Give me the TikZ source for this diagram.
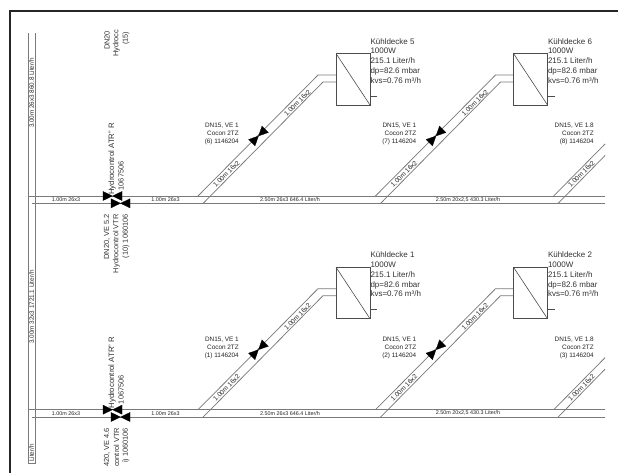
\documentclass[tikz,border=0pt]{standalone}
\usepackage{fontspec}
\setmainfont{Liberation Sans}
\tikzset{
  pipe/.style={draw=black!52,line width=0.75pt},
  unitbox/.style={draw=black!70,line width=0.6pt},
  framing/.style={draw=black!85,line width=1.2pt},
  valve/.style={fill=black,draw=black,line width=0.2pt},
  small/.style={font=\fontsize{5.4}{8}\selectfont,inner sep=0pt,text=black!85},
  riser/.style={font=\fontsize{6.3}{8}\selectfont,inner sep=0pt,rotate=90,text=black!85},
  diag/.style={font=\fontsize{6.6}{8}\selectfont,inner sep=0pt,rotate=45,text=black!85},
  dnlabel/.style={font=\fontsize{6.4}{8}\selectfont,inner sep=0pt,align=right,anchor=north east,text=black!85},
  heat/.style={font=\fontsize{8}{9.75}\selectfont,inner sep=0pt,align=left,anchor=north west,text=black!80},
  rot/.style={font=\fontsize{7.4}{9}\selectfont,inner sep=0pt,rotate=90,text=black!80},
  rotb/.style={font=\fontsize{7.8}{9}\selectfont,inner sep=0pt,rotate=90,text=black!80},
}
% bowtie valve, centred at #1, rotated by #2
\newcommand\valvetie[2]{%
  \fill[valve,shift={(#1)},rotate=#2] (-9.5pt,-4.6pt)--(9.5pt,4.6pt)--(9.5pt,-4.6pt)--(-9.5pt,4.6pt)--cycle;}
% full branch: #1 prefix, #2 x shift, #3 y shift, #4 heat text, #5 dn text
\newcommand\branch[5]{%
 \begin{scope}[shift={(#2,#3)}]
  \coordinate (#1a) at (198,196);
  \coordinate (#1b) at (318,75);
  \coordinate (#1c) at (203,203.5);
  \coordinate (#1d) at (323,82);
  \coordinate (#1tl) at (336,53.5);
  \coordinate (#1br) at (370,105);
  \coordinate (#1e) at (336,75);
  \coordinate (#1f) at (336,82);
  \coordinate (#1g) at (370,96);
  \coordinate (#1h) at (377,96);
  \draw[pipe] (#1a)--(#1b)--(#1e);
  \draw[pipe] (#1c)--(#1d)--(#1f);
  \draw[unitbox] (#1tl) rectangle (#1br);
  \draw[unitbox] (#1tl)--(#1br);
  \draw[unitbox] (#1g)--(#1h);
  \node[heat] (#1heat) at (370.3,38.2) {#4};
  \node[dnlabel] (#1dn) at (239,123) {#5};
  \valvetie{258.5,136}{45}
  \node[diag] (#1l) at (226.5,174) {1.00m 16x2};
  \node[diag] (#1m) at (297.5,103) {1.00m 16x2};
 \end{scope}}
% cut-off branch at the right edge
\newcommand\stubbranch[3]{%
 \begin{scope}[shift={(0,#1)}]
  \coordinate (#2a) at (553.7,196);
  \coordinate (#2b) at (605,144);
  \coordinate (#2c) at (558,203.5);
  \coordinate (#2d) at (605,155.5);
  \draw[pipe] (#2a)--(#2b);
  \draw[pipe] (#2c)--(#2d);
  \node[dnlabel] (#2dn) at (594,123) {#3};
  \node[diag] (#2l) at (581.5,174) {1.00m 16x2};
 \end{scope}}
% main pipes
\newcommand\mainrow[5]{%
 \begin{scope}[shift={(0,#1)}]
  \coordinate (#2a) at (28,196);
  \coordinate (#2b) at (605,196);
  \coordinate (#2c) at (32,203.3);
  \coordinate (#2d) at (605,203.3);
  \draw[pipe] (#2a)--(#2b);
  \draw[pipe] (#2c)--(#2d);
  \valvetie{112.5,196}{0}
  \valvetie{120.5,203.3}{0}
  \node[small] (#2p) at (66,199.5) {1.00m 26x3};
  \node[small] (#2q) at (165.5,199.5) {1.00m 26x3};
  \node[small] (#2r) at (290,199.5) {2.50m 26x3 646.4 Liter/h};
  \node[small] (#2s) at (468,199.5) {2.50m 20x2,5 430.3 Liter/h};
  \node[rotb,anchor=west] (#2t) at (112,195) {Hydrocontrol ATR" R};
  \node[rot,anchor=west] (#2u) at (121,190.5) {1067506};
  \node[rot,anchor=east] (#2v) at (107,214) {#3};
  \node[rot,anchor=east] (#2w) at (116.5,214) {#4};
  \node[rot,anchor=east] (#2x) at (126,214) {#5};
 \end{scope}}
\begin{document}
\begin{tikzpicture}[x=1pt,y=-1pt]
\useasboundingbox (0,0) rectangle (618,474);
\fill[white] (0,0) rectangle (618,474);
% outer frame
\coordinate (f1) at (10,473);
\coordinate (f2) at (10,11);
\coordinate (f3) at (618,11);
\draw[framing] (f1)--(f2)--(f3);
% riser
\coordinate (v1a) at (28,33);
\coordinate (v1b) at (28,463);
\coordinate (v2a) at (35.5,33);
\coordinate (v2b) at (35.5,463);
\draw[pipe] (v1a)--(v1b);
\draw[pipe] (v2a)--(v2b);
\draw[pipe] (v1b)--(v2b);
\node[riser] (r1) at (31.7,93) {3.00m 26x3 860.8 Liter/h};
\node[riser] (r2) at (31.7,307) {3.00m 32x3 1721.1 Liter/h};
\node[riser] (r3) at (31.7,453) {Liter/h};
% top clipped labels
\node[rot,anchor=west] (t1) at (107,50) {DN20};
\node[rot,anchor=west] (t2) at (116.5,57) {Hydrocc};
\node[rot,anchor=west] (t3) at (126,45) {(15)};
\mainrow{0}{up}{DN20, VE 5.2}{Hydrocontrol VTR}{(10) 1060106}
\mainrow{213.7}{lo}{420, VE 4.6}{control VTR}{i) 1060106}
\branch{a}{0}{0}{Kühldecke 5\\1000W\\215.1 Liter/h\\dp=82.6 mbar\\kvs=0.76 m³/h}{DN15, VE 1\\Cocon 2TZ\\(6) 1146204}
\branch{b}{177.5}{0}{Kühldecke 6\\1000W\\215.1 Liter/h\\dp=82.6 mbar\\kvs=0.76 m³/h}{DN15, VE 1\\Cocon 2TZ\\(7) 1146204}
\stubbranch{0}{c}{DN15, VE 1.8\\Cocon 2TZ\\(8) 1146204}
\branch{d}{0}{213.7}{Kühldecke 1\\1000W\\215.1 Liter/h\\dp=82.6 mbar\\kvs=0.76 m³/h}{DN15, VE 1\\Cocon 2TZ\\(1) 1146204}
\branch{e}{177.5}{213.7}{Kühldecke 2\\1000W\\215.1 Liter/h\\dp=82.6 mbar\\kvs=0.76 m³/h}{DN15, VE 1\\Cocon 2TZ\\(2) 1146204}
\stubbranch{213.7}{g}{DN15, VE 1.8\\Cocon 2TZ\\(3) 1146204}
\end{tikzpicture}
\end{document}
